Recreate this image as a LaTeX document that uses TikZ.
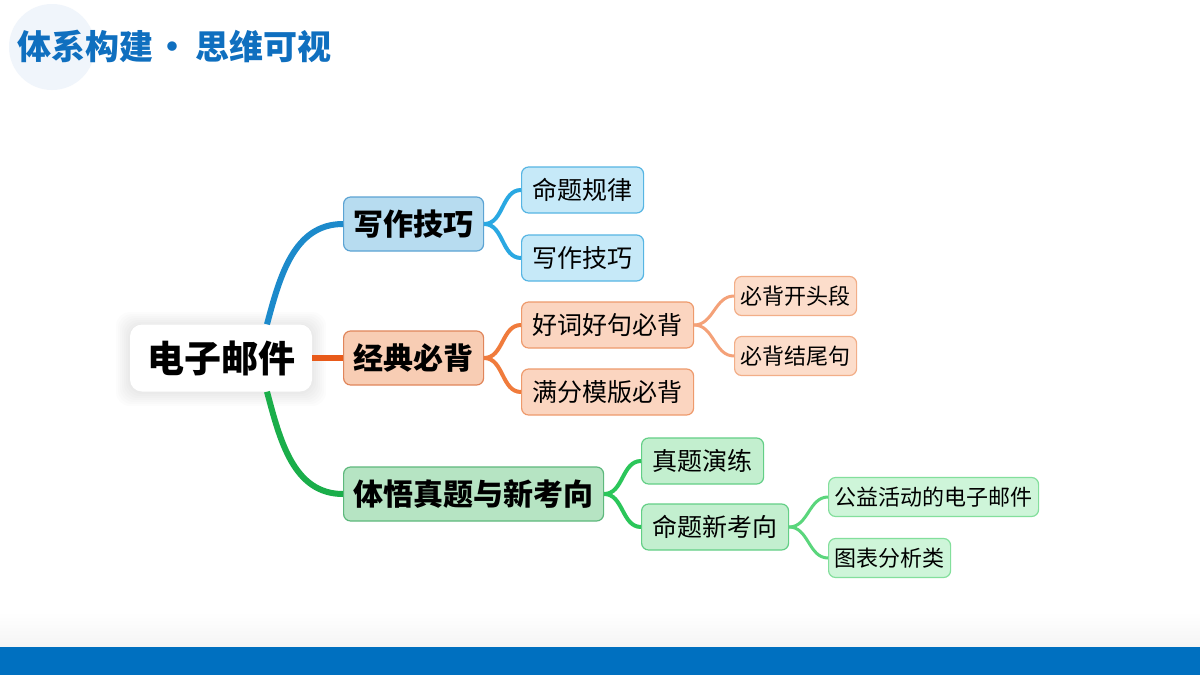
\documentclass[tikz,border=0pt]{standalone}
\usepackage{fontspec}
\setmainfont{Noto Sans CJK SC}
\definecolor{titleblue}{HTML}{0F6FBF}
\definecolor{bandblue}{HTML}{0070C0}
\definecolor{circblue}{HTML}{F0F5FB}
\definecolor{blueline}{HTML}{1C8ACB}
\definecolor{bluelinetwo}{HTML}{2AA8E2}
\definecolor{bluefill}{HTML}{B7DCF0}
\definecolor{blueedge}{HTML}{5BA3D3}
\definecolor{bluefilltwo}{HTML}{C6E9F8}
\definecolor{blueedgetwo}{HTML}{56B5E3}
\definecolor{orangeline}{HTML}{E85A1A}
\definecolor{orangelinetwo}{HTML}{F07B3C}
\definecolor{orangelinethree}{HTML}{F4A178}
\definecolor{orangefill}{HTML}{F8CDB4}
\definecolor{orangeedge}{HTML}{E0855A}
\definecolor{orangefilltwo}{HTML}{FBD5C0}
\definecolor{orangeedgetwo}{HTML}{EE9A6C}
\definecolor{orangefillthree}{HTML}{FCDDCB}
\definecolor{orangeedgethree}{HTML}{F2AE88}
\definecolor{greenline}{HTML}{1AAE4A}
\definecolor{greenlinetwo}{HTML}{2BC65A}
\definecolor{greenlinethree}{HTML}{5AD67C}
\definecolor{greenfill}{HTML}{B6E4C3}
\definecolor{greenedge}{HTML}{5DB87C}
\definecolor{greenfilltwo}{HTML}{C3EFCF}
\definecolor{greenedgetwo}{HTML}{63CF86}
\definecolor{greenfillthree}{HTML}{CEF5D9}
\definecolor{greenedgethree}{HTML}{83DF9C}
\begin{document}
\begin{tikzpicture}[x=1pt,y=-1pt,
    box/.style={draw,rounded corners=7pt,line width=1.2pt,anchor=west},
    lvone/.style={box,font=\fontsize{30}{30}\selectfont\bfseries,minimum height=54pt,inner xsep=10pt},
    lvtwo/.style={box,font=\fontsize{25}{25}\selectfont,minimum height=46pt,inner xsep=11pt},
    lvthree/.style={box,font=\fontsize{22}{22}\selectfont,minimum height=39pt,inner xsep=6pt},
    bluebox/.style={lvone,fill=bluefill,draw=blueedge},
    blueboxtwo/.style={lvtwo,fill=bluefilltwo,draw=blueedgetwo},
    orangebox/.style={lvone,fill=orangefill,draw=orangeedge},
    orangeboxtwo/.style={lvtwo,fill=orangefilltwo,draw=orangeedgetwo},
    orangeboxthree/.style={lvthree,fill=orangefillthree,draw=orangeedgethree},
    greenbox/.style={lvone,fill=greenfill,draw=greenedge},
    greenboxtwo/.style={lvtwo,fill=greenfilltwo,draw=greenedgetwo},
    greenboxthree/.style={lvthree,fill=greenfillthree,draw=greenedgethree},
    linkone/.style={line width=6pt},
    linktwo/.style={line width=4pt},
    linkthree/.style={line width=3pt}]
    \useasboundingbox (0,0) rectangle (1200,675);
    \fill[white] (0,0) rectangle (1200,675);
    \fill[circblue] (52,47) circle (43);
    \node[anchor=west,text=titleblue,font=\fontsize{34}{34}\selectfont\bfseries,inner sep=0pt] (title) at (17,46) {体系构建\hspace{2pt}·\hspace{6pt}思维可视};
    \shade[top color=white,bottom color=black!4] (0,612) rectangle (1200,647);
    \fill[bandblue] (0,647) rectangle (1200,675);

    \foreach \s in {2,4,...,14}
        \fill[black,opacity=0.01,rounded corners=14pt] ({130-\s},{326-\s}) rectangle ({312+\s},{392+\s});
    \node[fill=white,rounded corners=12pt,minimum width=182pt,minimum height=67pt,font=\fontsize{37}{37}\selectfont\bfseries] (mail) at (221,358) {电子邮件};

    \node[bluebox] (skill) at (343,224) {写作技巧};
    \node[blueboxtwo] (rule) at (521,190) {命题规律};
    \node[blueboxtwo] (skilltwo) at (521,258) {写作技巧};

    \node[orangebox] (recite) at (343,358) {经典必背};
    \node[orangeboxtwo] (words) at (521,325) {好词好句必背};
    \node[orangeboxtwo] (model) at (521,392) {满分模版必背};
    \node[orangeboxthree] (opening) at (734,296) {必背开头段};
    \node[orangeboxthree] (ending) at (734,356) {必背结尾句};

    \node[greenbox] (exam) at (343,494) {体悟真题与新考向};
    \node[greenboxtwo] (practice) at (641,461) {真题演练};
    \node[greenboxtwo] (trend) at (641,527) {命题新考向};
    \node[greenboxthree] (charity) at (828,497) {公益活动的电子邮件};
    \node[greenboxthree] (chart) at (828,558) {图表分析类};

    \draw[linkone,blueline] ([xshift=46pt]mail.north) to[out=75,in=180] (skill.west);
    \draw[linkone,orangeline] (mail.east) -- (recite.west);
    \draw[linkone,greenline] ([xshift=46pt]mail.south) to[out=-75,in=180] (exam.west);

    \draw[linktwo,bluelinetwo] (skill.east) to[out=0,in=180] (rule.west);
    \draw[linktwo,bluelinetwo] (skill.east) to[out=0,in=180] (skilltwo.west);
    \draw[linktwo,orangelinetwo] (recite.east) to[out=0,in=180] (words.west);
    \draw[linktwo,orangelinetwo] (recite.east) to[out=0,in=180] (model.west);
    \draw[linkthree,orangelinethree] (words.east) to[out=0,in=180] (opening.west);
    \draw[linkthree,orangelinethree] (words.east) to[out=0,in=180] (ending.west);
    \draw[linktwo,greenlinetwo] (exam.east) to[out=0,in=180] (practice.west);
    \draw[linktwo,greenlinetwo] (exam.east) to[out=0,in=180] (trend.west);
    \draw[linkthree,greenlinethree] (trend.east) to[out=0,in=180] (charity.west);
    \draw[linkthree,greenlinethree] (trend.east) to[out=0,in=180] (chart.west);
\end{tikzpicture}
\end{document}
